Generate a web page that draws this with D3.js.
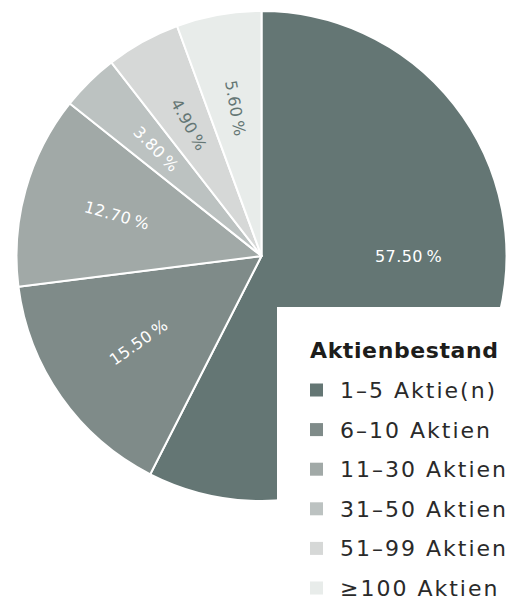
<!DOCTYPE html>
<html><head><meta charset="utf-8">
<script src="https://cdn.jsdelivr.net/npm/d3@7"></script>
<style>html,body{margin:0;padding:0;background:#fff;}svg{display:block;}</style>
</head><body>
<svg id="chart" width="518" height="601"></svg>
<script>
const categories = ["1–5 Aktie(n)", "6–10 Aktien", "11–30 Aktien", "31–50 Aktien", "51–99 Aktien", "≥100 Aktien"];
const values = [57.5, 15.5, 12.7, 3.8, 4.9, 5.6];
const labels = ["57.50\u2009%", "15.50\u2009%", "12.70\u2009%", "3.80\u2009%", "4.90\u2009%", "5.60\u2009%"];
const colors = ["#647674", "#7f8b89", "#a1a9a7", "#bcc2c1", "#d6d8d7", "#e8ecea"];
const labelColors = ["#ffffff", "#ffffff", "#ffffff", "#ffffff", "#647674", "#647674"];
const legendTitle = "Aktienbestand";

const svg = d3.select("#chart");
const cx = 261.5, cy = 256, R = 245, labelR = 150;
const font = "'DejaVu Sans', sans-serif";

const pie = d3.pie().sort(null).value(d => d)(values);
const arc = d3.arc().innerRadius(0).outerRadius(R);
const color = d3.scaleOrdinal().domain(categories).range(colors);

const g = svg.append("g").attr("transform", `translate(${cx},${cy})`);
g.selectAll("path").data(pie).enter().append("path")
  .attr("d", arc)
  .attr("fill", (d, i) => color(categories[i]))
  .attr("stroke", "#fff").attr("stroke-width", 2).attr("stroke-linejoin", "round");

g.selectAll("text.lbl").data(pie).enter().append("text")
  .attr("class", "lbl")
  .attr("transform", (d, i) => {
    let a = (d.startAngle + d.endAngle) / 2;
    let horizontal = (d.endAngle - d.startAngle) > Math.PI;
    if (horizontal) a = Math.PI / 2;
    const x = labelR * Math.sin(a), y = -labelR * Math.cos(a);
    let rot = a * 180 / Math.PI - 90;
    if (rot > 90) rot -= 180;
    if (horizontal) rot = 0;
    return `translate(${x - (horizontal ? 3 : 0)},${y}) rotate(${rot})`;
  })
  .attr("text-anchor", "middle").attr("dominant-baseline", "central")
  .attr("font-family", font).attr("font-size", 16).attr("font-weight", 400)
  .attr("letter-spacing", 0.4)
  .attr("fill", (d, i) => labelColors[i])
  .text((d, i) => labels[i]);

// legend
const lg = svg.append("g");
lg.append("rect").attr("x", 277).attr("y", 307).attr("width", 241).attr("height", 294).attr("fill", "#fff");
lg.append("text").attr("x", 310).attr("y", 358)
  .attr("font-family", font).attr("font-size", 22).attr("font-weight", 700)
  .attr("letter-spacing", 0.6)
  .attr("fill", "#1d1d1b").text(legendTitle);
const rowY = d3.scalePoint().domain(categories).range([398, 596]);
const items = lg.selectAll("g.item").data(categories).enter().append("g")
  .attr("transform", d => `translate(310,${rowY(d)})`);
items.append("rect").attr("x", 0).attr("y", -14.5).attr("width", 13).attr("height", 13)
  .attr("fill", d => color(d));
items.append("text").attr("x", 30).attr("y", 0)
  .attr("font-family", font).attr("font-size", 22).attr("font-weight", 400)
  .attr("letter-spacing", 2)
  .attr("fill", "#2a2a2a").text(d => d);
</script>
</body></html>
